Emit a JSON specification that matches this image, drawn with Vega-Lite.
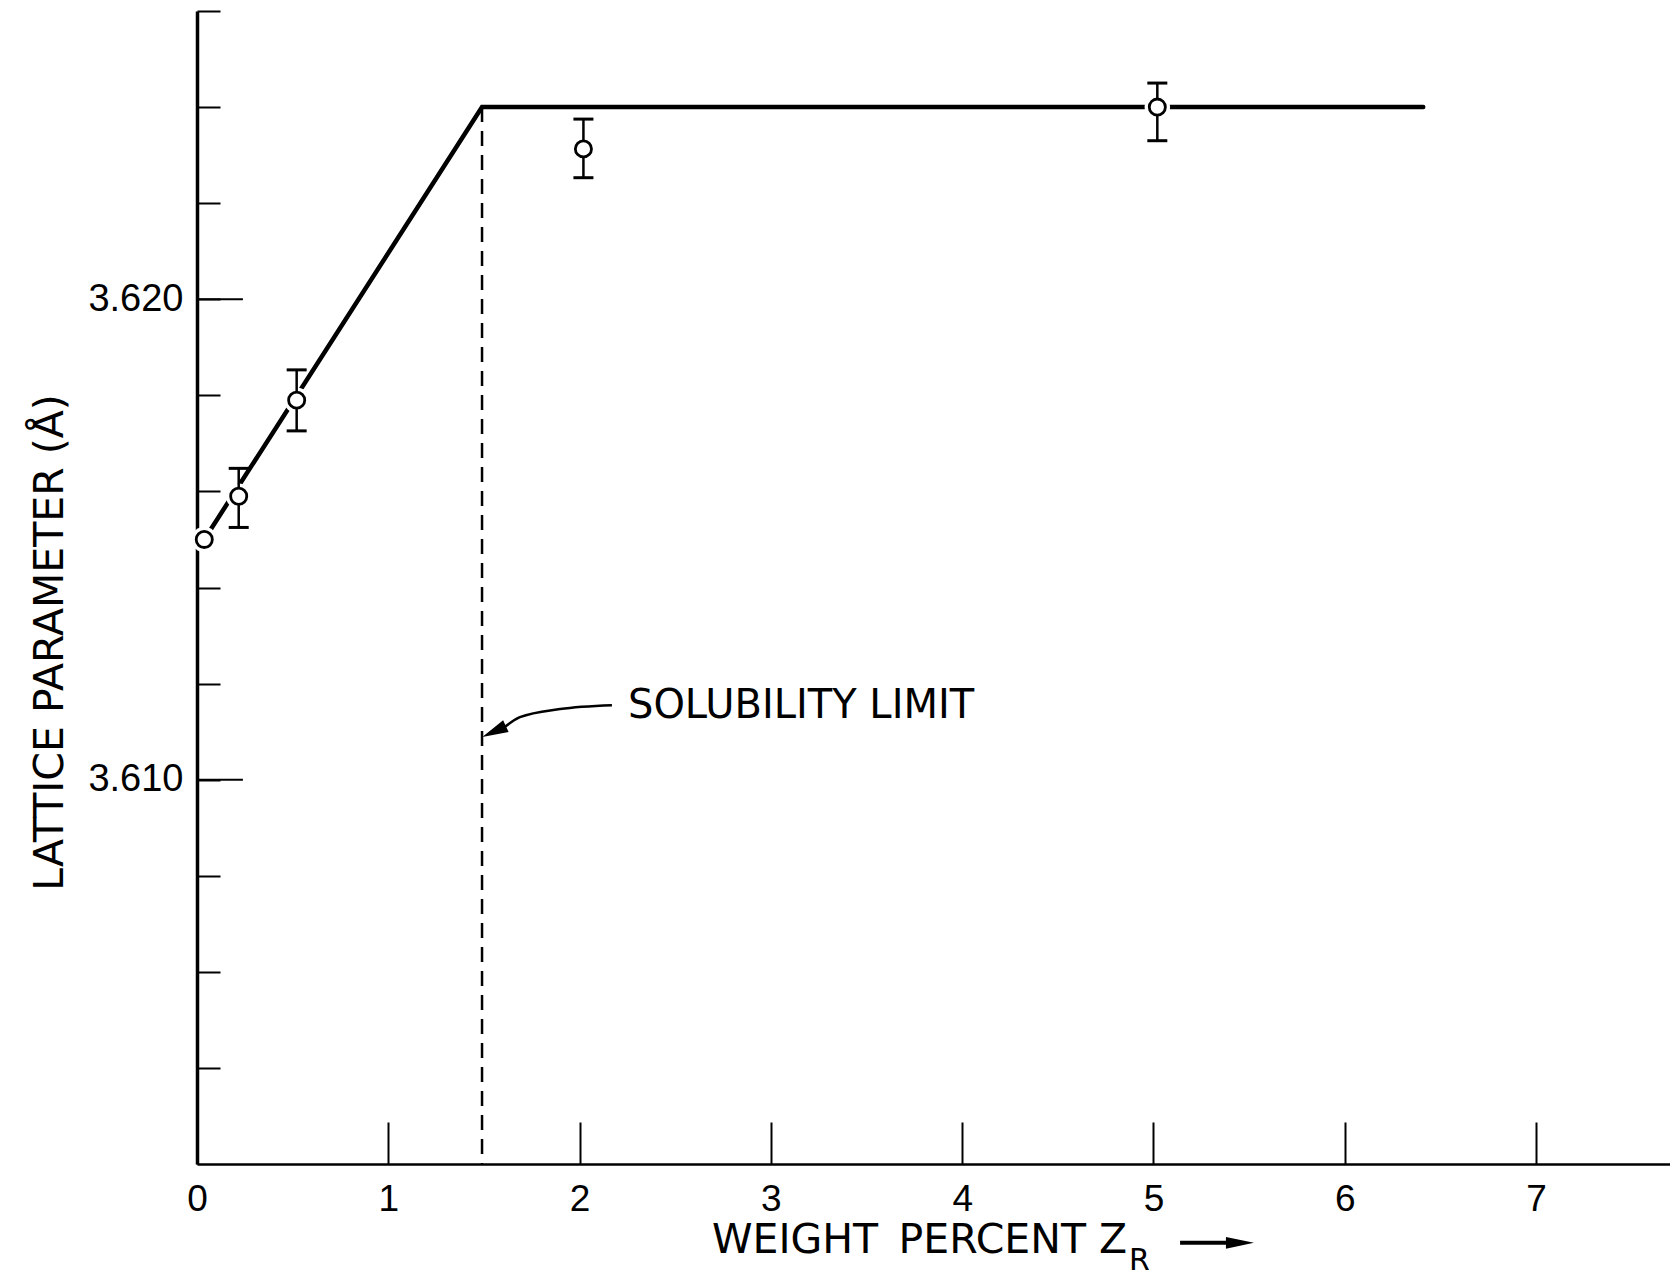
{
  "$schema": "https://vega.github.io/schema/vega-lite/v6.json",
  "width": 1473,
  "height": 1153,
  "autosize": {"type": "none"},
  "padding": {"left": 197, "top": 11, "right": 0, "bottom": 114},
  "background": "white",
  "config": {"view": {"stroke": null}, "font": "DejaVu Sans"},
  "datasets": {
    "pts": [
      {"wt": 0.038, "a": 3.6150},
      {"wt": 0.218, "a": 3.6159, "lo": 3.61525, "hi": 3.61648},
      {"wt": 0.521, "a": 3.6179, "lo": 3.61726, "hi": 3.61853},
      {"wt": 2.02, "a": 3.62313, "lo": 3.62253, "hi": 3.62375},
      {"wt": 5.02, "a": 3.6240, "lo": 3.6233, "hi": 3.6245}
    ],
    "fit": [
      {"wt": 0.038, "a": 3.6150},
      {"wt": 1.49, "a": 3.624},
      {"wt": 6.41, "a": 3.624}
    ],
    "limit": [{"wt": 1.49, "a": 3.624, "a2": 3.602}],
    "labticks": [{"wt": 0, "wt2": 0.24, "a": 3.61}, {"wt": 0, "wt2": 0.24, "a": 3.62}],
    "curve": [
      {"wt": 2.169, "a": 3.61155},
      {"wt": 1.898, "a": 3.61147},
      {"wt": 1.688, "a": 3.6113},
      {"wt": 1.61, "a": 3.6111}
    ],
    "head": [{"wt": 1.553, "a": 3.6110}],
    "note": [{"wt": 2.253, "a": 3.61153, "label": "SOLUBILITY LIMIT"}],
    "sub": [{"wt": 4.927, "a": 3.59998, "label": "R"}],
    "tarrow": [{"wt": 5.139, "wt2": 5.40, "a": 3.60036}],
    "thead": [{"wt": 5.452, "a": 3.60036}]
  },
  "encoding": {
    "x": {
      "field": "wt", "type": "quantitative",
      "scale": {"domain": [0, 7.7], "nice": false, "zero": false},
      "axis": {
        "title": "WEIGHT\u2002PERCENT Z",
        "values": [0, 1, 2, 3, 4, 5, 6, 7],
        "format": "d",
        "grid": false,
        "zindex": 0,
        "domainColor": "black", "domainWidth": 2.5,
        "tickColor": "black", "tickWidth": 2, "tickSize": -42,
        "labelPadding": 59, "labelFont": "Liberation Sans", "labelFontSize": 37, "labelColor": "black",
        "labelFlush": false, "labelOverlap": false,
        "titleFont": "DejaVu Sans", "titleFontSize": 41, "titleFontWeight": "normal", "titleColor": "black",
        "titleX": 722, "titleY": 76, "titleAlign": "center", "titleBaseline": "middle"
      }
    },
    "y": {
      "field": "a", "type": "quantitative",
      "scale": {"domain": [3.602, 3.626], "nice": false, "zero": false},
      "axis": {
        "title": "LATTICE PARAMETER (Å)",
        "values": [3.604, 3.606, 3.608, 3.61, 3.612, 3.614, 3.616, 3.618, 3.62, 3.622, 3.624, 3.626],
        "labelExpr": "abs(datum.value - 3.61) < 0.00001 || abs(datum.value - 3.62) < 0.00001 ? format(datum.value, '.3f') : ''",
        "grid": false,
        "zindex": 0,
        "domainColor": "black", "domainWidth": 3.5,
        "tickColor": "black", "tickWidth": 2, "tickSize": -23,
        "labelPadding": 37, "labelFont": "Liberation Sans", "labelFontSize": 38, "labelColor": "black",
        "labelFlush": false, "labelOverlap": false,
        "titleFont": "DejaVu Sans", "titleFontSize": 41, "titleFontWeight": "normal", "titleColor": "black",
        "titleX": -147, "titleY": 631, "titleAngle": 270, "titleAlign": "center", "titleBaseline": "middle"
      }
    }
  },
  "layer": [
    {
      "data": {"name": "fit"},
      "mark": {"type": "line", "color": "black", "strokeWidth": 4.5, "strokeCap": "round", "strokeJoin": "miter"}
    },
    {
      "data": {"name": "limit"},
      "mark": {"type": "rule", "color": "black", "strokeWidth": 2.5, "strokeDash": [15, 9]},
      "encoding": {"y2": {"field": "a2"}}
    },
    {
      "data": {"name": "pts"},
      "mark": {"type": "point", "shape": "circle", "filled": true, "color": "white", "opacity": 1, "size": 650}
    },
    {
      "data": {"name": "pts"},
      "transform": [{"filter": "isValid(datum.lo)"}],
      "mark": {"type": "rule", "color": "black", "strokeWidth": 2.5},
      "encoding": {
        "y": {"field": "lo", "type": "quantitative"},
        "y2": {"field": "hi"}
      }
    },
    {
      "data": {"name": "pts"},
      "transform": [{"filter": "isValid(datum.lo)"}],
      "mark": {"type": "tick", "orient": "horizontal", "color": "black", "size": 20, "thickness": 3, "opacity": 1},
      "encoding": {"y": {"field": "lo", "type": "quantitative"}}
    },
    {
      "data": {"name": "pts"},
      "transform": [{"filter": "isValid(datum.hi)"}],
      "mark": {"type": "tick", "orient": "horizontal", "color": "black", "size": 20, "thickness": 3, "opacity": 1},
      "encoding": {"y": {"field": "hi", "type": "quantitative"}}
    },
    {
      "data": {"name": "pts"},
      "mark": {"type": "point", "shape": "circle", "filled": false, "fill": "white", "fillOpacity": 1, "stroke": "black", "strokeWidth": 2.8, "opacity": 1, "size": 260}
    },
    {
      "data": {"name": "labticks"},
      "mark": {"type": "rule", "color": "black", "strokeWidth": 2},
      "encoding": {"x2": {"field": "wt2"}}
    },
    {
      "data": {"name": "curve"},
      "mark": {"type": "line", "color": "black", "strokeWidth": 2.5, "interpolate": "monotone"}
    },
    {
      "data": {"name": "head"},
      "mark": {"type": "point", "shape": "M -1 0 L 1 -0.5 L 1 0.5 Z", "filled": true, "color": "black", "opacity": 1, "size": 676, "angle": 335}
    },
    {
      "data": {"name": "note"},
      "mark": {"type": "text", "align": "left", "baseline": "middle", "font": "DejaVu Sans", "fontSize": 40, "color": "black"},
      "encoding": {"text": {"field": "label"}}
    },
    {
      "data": {"name": "sub"},
      "mark": {"type": "text", "align": "center", "baseline": "middle", "font": "DejaVu Sans", "fontSize": 30, "color": "black"},
      "encoding": {"text": {"field": "label"}}
    },
    {
      "data": {"name": "tarrow"},
      "mark": {"type": "rule", "color": "black", "strokeWidth": 4},
      "encoding": {"x2": {"field": "wt2"}}
    },
    {
      "data": {"name": "thead"},
      "mark": {"type": "point", "shape": "M 1 0 L -1 -0.42 L -1 0.42 Z", "filled": true, "color": "black", "opacity": 1, "size": 784}
    }
  ]
}
